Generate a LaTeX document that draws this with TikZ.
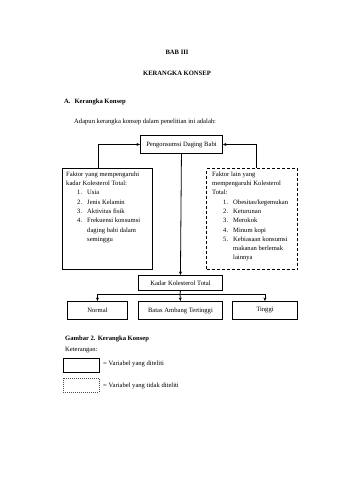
\documentclass[tikz,border=0pt]{standalone}
\usepackage{fontspec}
\setmainfont{Liberation Serif}
\usetikzlibrary{calc,arrows.meta}
\newcommand{\myitem}[2]{\hspace*{11pt}\makebox[10pt][l]{#1}#2}
\newcommand{\mycont}[1]{\hspace*{21pt}#1}
\begin{document}
\begin{tikzpicture}[x=1pt,y=-1pt,
  every node/.style={font=\fontsize{6.6}{9.3}\selectfont, inner sep=0pt},
  txt/.style={anchor=base west},
  ttl/.style={anchor=base, font=\fontsize{6.6}{9.3}\selectfont\bfseries},
  sbox/.style={draw, line width=0.9pt, anchor=north west},
  dbox/.style={draw, line width=1.2pt, dash pattern=on 3pt off 2pt, anchor=north west},
  lbox/.style={draw, line width=0.6pt, anchor=north west, minimum width=36pt, minimum height=14pt},
  ldbox/.style={draw=black!70, line width=0.45pt, dash pattern=on 1pt off 1pt, anchor=north west, minimum width=36pt, minimum height=14pt},
  arr/.style={line width=0.8pt, -{Stealth[length=3.5pt,width=3pt]}},
  ln/.style={line width=0.8pt},
  body/.style={anchor=north west, align=left}
]
\useasboundingbox (0,0) rectangle (339,480);
\fill[white] (0,0) rectangle (339,480);

\node[ttl] (bab) at (177,54) {BAB III};
\node[ttl] (judul) at (177,75) {KERANGKA KONSEP};
\node[txt, font=\fontsize{6.6}{9.3}\selectfont\bfseries] (sub) at (64,103) {A.\hspace{4pt}Kerangka Konsep};
\node[txt] (intro) at (74,123) {Adapun kerangka konsep dalam penelitian ini adalah:};

% top box
\node[sbox, minimum width=82pt, minimum height=18pt] (top) at (140,135) {Pengonsumsi Daging Babi};

% left box
\node[sbox, minimum width=90pt, minimum height=101pt] (lb) at (62,168) {};
\node[body] (lt) at (66,171.5) {Faktor yang mempengaruhi\\kadar Kolesterol Total:\\
\myitem{1.}{Usia}\\
\myitem{2.}{Jenis Kelamin}\\
\myitem{3.}{Aktivitas fisik}\\
\myitem{4.}{Frekuensi konsumsi}\\
\mycont{daging babi dalam}\\
\mycont{seminggu}};

% right dashed box
\node[dbox, minimum width=91pt, minimum height=101pt] (rb) at (206,168) {};
\node[body] (rt) at (212,171.5) {Faktor lain yang\\mempengaruhi Kolesterol\\Total:\\
\myitem{1.}{Obesitas/kegemukan}\\
\myitem{2.}{Keturunan}\\
\myitem{3.}{Merokok}\\
\myitem{4.}{Minum kopi}\\
\myitem{5.}{Kebiasaan konsumsi}\\
\mycont{makanan berlemak}\\
\mycont{lainnya}};

% kadar box
\node[sbox, minimum width=84pt, minimum height=15pt] (kadar) at (138,275) {Kadar Kolesterol Total};

% bottom boxes
\node[sbox, minimum width=60pt, minimum height=18pt] (normal) at (67,301) {Normal};
\node[sbox, minimum width=84pt, minimum height=18pt] (batas) at (138,301) {Batas Ambang Tertinggi};
\node[sbox, minimum width=65pt, minimum height=18pt] (tinggi) at (232,301) {Tinggi};

% connectors
\draw[arr] ([xshift=36pt]lb.north west) |- (top.west);
\draw[arr] ([xshift=50pt]rb.north west) |- (top.east);
\draw[arr] (top.south) -- (kadar.north);
\coordinate (br) at (180,294);
\draw[ln] (kadar.south) -- (br);
\draw[arr] (br) -| (normal.north);
\draw[arr] (br) -- (batas.north);
\draw[arr] (br) -| (tinggi.north);

% caption and legend
\node[txt, font=\fontsize{6.6}{9.3}\selectfont\bfseries] (cap) at (65,340) {Gambar 2. Kerangka Konsep};
\node[txt] (ket) at (65,351) {Keterangan:};
\node[lbox] (l1) at (63,358) {};
\node[txt] (l1t) at (103,365) {= Variabel yang diteliti};
\node[ldbox] (l2) at (63,378) {};
\node[txt] (l2t) at (103,387) {= Variabel yang tidak diteliti};
\end{tikzpicture}
\end{document}
